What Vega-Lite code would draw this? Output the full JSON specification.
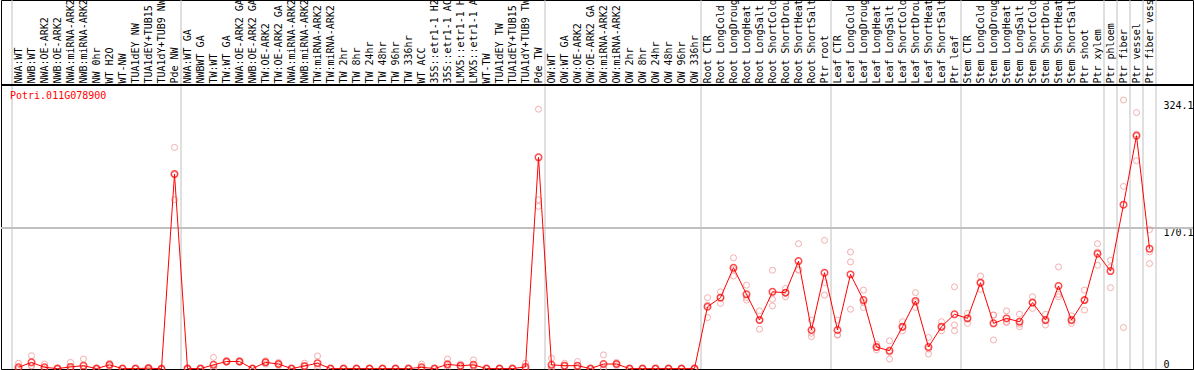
{
  "$schema": "https://vega.github.io/schema/vega-lite/v6.json",
  "width": 1192,
  "height": 369,
  "autosize": {"type": "none"},
  "padding": {"left": 1, "top": 0, "right": 1, "bottom": 1},
  "background": "white",
  "config": {"view": {"stroke": "black", "strokeWidth": 1}, "font": "DejaVu Sans Mono"},
  "title": {"text": "Potri.011G078900", "orient": "bottom", "anchor": "start", "frame": "group", "offset": -284, "dx": 9, "color": "red", "font": "DejaVu Sans Mono", "fontSize": 10, "fontWeight": "normal", "baseline": "top"},
  "data": {"values": [
    {"k": "01|NWA:WT", "g": "NW", "m": 2, "r": [0.5, 7, 0]},
    {"k": "02|NWB:WT", "g": "NW", "m": 8, "r": [3.6, 16, 4]},
    {"k": "03|NWA:OE-ARK2", "g": "NW", "m": 2, "r": [6, 0, 0]},
    {"k": "04|NWB:OE-ARK2", "g": "NW", "m": 0.5, "r": [0.5, 1, 0]},
    {"k": "05|NWA:miRNA-ARK2", "g": "NW", "m": 2.5, "r": [8, 0, 0]},
    {"k": "06|NWB:miRNA-ARK2", "g": "NW", "m": 4, "r": [12, 0, 0]},
    {"k": "07|NW 0hr", "g": "NW", "m": 0.5, "r": [0.5, 0, 1]},
    {"k": "08|WT H2O", "g": "NW", "m": 5, "r": [7, 5, 3]},
    {"k": "09|WT-NW", "g": "NW", "m": 0.5, "r": [0.5, 0.5, 0.5]},
    {"k": "10|TUA1dEY NW", "g": "NW", "m": 0.5, "r": [0.5, 0.5, 0.5]},
    {"k": "11|TUA1dEY+TUB15", "g": "NW", "m": 1, "r": [1, 2, 0]},
    {"k": "12|TUA1dY+TUB9 NW", "g": "NW", "m": 0.3, "r": [0.3, 0.3, 0.3]},
    {"k": "13|Pde NW", "g": "NW", "m": 235, "r": [267, 234, 204]},
    {"k": "14|NWA:WT GA", "g": "TW", "m": 0.5, "r": [0.5, 0.5, 0.5]},
    {"k": "15|NWBWT GA", "g": "TW", "m": 0.5, "r": [0.5, 0.5, 0.5]},
    {"k": "16|TW:WT", "g": "TW", "m": 5, "r": [14, 1, 0]},
    {"k": "17|TW:WT GA", "g": "TW", "m": 9, "r": [10, 9, 8]},
    {"k": "18|NWA:OE-ARK2 GA", "g": "TW", "m": 9, "r": [10, 9, 8]},
    {"k": "19|NWB:OE-ARK2 GA", "g": "TW", "m": 0.5, "r": [0.5, 0.5, 0.5]},
    {"k": "20|TW:OE-ARK2", "g": "TW", "m": 8, "r": [10, 8, 6]},
    {"k": "21|TW:OE-ARK2 GA", "g": "TW", "m": 6, "r": [8, 6, 4]},
    {"k": "22|NWA:miRNA-ARK2", "g": "TW", "m": 0.5, "r": [0.5, 0.5, 0.5]},
    {"k": "23|NWB:miRNA-ARK2", "g": "TW", "m": 3.6, "r": [7, 3, 1]},
    {"k": "24|TW:miRNA-ARK2", "g": "TW", "m": 7, "r": [15.7, 4, 1]},
    {"k": "25|TW:miRNA-ARK2 ", "g": "TW", "m": 0.5, "r": [0.5, 0.5, 0.5]},
    {"k": "26|TW 2hr", "g": "TW", "m": 0.5, "r": [0.5, 0.5, 0.5]},
    {"k": "27|TW 8hr", "g": "TW", "m": 0.5, "r": [0.5, 0.5, 0.5]},
    {"k": "28|TW 24hr", "g": "TW", "m": 0.5, "r": [0.5, 0.5, 0.5]},
    {"k": "29|TW 48hr", "g": "TW", "m": 0.5, "r": [0.5, 0.5, 0.5]},
    {"k": "30|TW 96hr", "g": "TW", "m": 0.5, "r": [0.5, 0.5, 0.5]},
    {"k": "31|TW 336hr", "g": "TW", "m": 0.5, "r": [0.5, 0.5, 0.5]},
    {"k": "32|WT ACC", "g": "TW", "m": 2, "r": [6, 0, 0]},
    {"k": "33|35S::etr1-1 H2", "g": "TW", "m": 0.5, "r": [0.5, 0.5, 0.5]},
    {"k": "34|35S::etr1-1 AC", "g": "TW", "m": 5.6, "r": [12, 4, 1]},
    {"k": "35|LMX5::etr1-1 H", "g": "TW", "m": 4, "r": [6, 4, 2]},
    {"k": "36|LMX5::etr1-1 A", "g": "TW", "m": 5, "r": [11, 3, 1]},
    {"k": "37|WT-TW", "g": "TW", "m": 0.5, "r": [0.5, 0.5, 0.5]},
    {"k": "38|TUA1dEY TW", "g": "TW", "m": 0.5, "r": [0.5, 0.5, 0.5]},
    {"k": "39|TUA1dEY+TUB15 ", "g": "TW", "m": 0.5, "r": [0.5, 0.5, 0.5]},
    {"k": "40|TUA1dY+TUB9 TW", "g": "TW", "m": 2.5, "r": [7, 0.5, 0]},
    {"k": "41|Pde TW", "g": "TW", "m": 255, "r": [313, 204, 196]},
    {"k": "42|OW:WT", "g": "OW", "m": 5, "r": [13, 2, 0]},
    {"k": "43|OW:WT GA", "g": "OW", "m": 4, "r": [7, 4, 1]},
    {"k": "44|OW:OE-ARK2", "g": "OW", "m": 4, "r": [9, 2, 1]},
    {"k": "45|OW:OE-ARK2 GA", "g": "OW", "m": 0.5, "r": [0.5, 0.5, 0.5]},
    {"k": "46|OW:miRNA-ARK2", "g": "OW", "m": 6, "r": [17, 1, 0]},
    {"k": "47|OW:miRNA-ARK2 ", "g": "OW", "m": 6, "r": [8, 6, 4]},
    {"k": "48|OW 2hr", "g": "OW", "m": 0.5, "r": [0.5, 0.5, 0.5]},
    {"k": "49|OW 8hr", "g": "OW", "m": 0.5, "r": [0.5, 0.5, 0.5]},
    {"k": "50|OW 24hr", "g": "OW", "m": 0.5, "r": [0.5, 0.5, 0.5]},
    {"k": "51|OW 48hr", "g": "OW", "m": 0.5, "r": [0.5, 0.5, 0.5]},
    {"k": "52|OW 96hr", "g": "OW", "m": 0.5, "r": [0.5, 0.5, 0.5]},
    {"k": "53|OW 336hr", "g": "OW", "m": 0.5, "r": [0.5, 0.5, 0.5]},
    {"k": "54|Root CTR", "g": "Root", "m": 75, "r": [86, 77, 62]},
    {"k": "55|Root LongCold", "g": "Root", "m": 86, "r": [93, 86, 79]},
    {"k": "56|Root LongDroug", "g": "Root", "m": 122, "r": [134, 120, 112]},
    {"k": "57|Root LongHeat", "g": "Root", "m": 90, "r": [101, 86, 83]},
    {"k": "58|Root LongSalt", "g": "Root", "m": 59, "r": [70, 59, 48]},
    {"k": "59|Root ShortCold", "g": "Root", "m": 93, "r": [119, 84, 76]},
    {"k": "60|Root ShortDrou", "g": "Root", "m": 92, "r": [97, 92, 87]},
    {"k": "61|Root ShortHeat", "g": "Root", "m": 130, "r": [151, 119, 120]},
    {"k": "62|Root ShortSalt", "g": "Root", "m": 47, "r": [59, 43, 39]},
    {"k": "63|Ptr root", "g": "Root", "m": 116, "r": [155, 104, 89]},
    {"k": "64|Leaf CTR", "g": "Leaf", "m": 47, "r": [59, 41, 41]},
    {"k": "65|Leaf LongCold", "g": "Leaf", "m": 114, "r": [141, 129, 72]},
    {"k": "66|Leaf LongDroug", "g": "Leaf", "m": 83, "r": [95, 80, 74]},
    {"k": "67|Leaf LongHeat", "g": "Leaf", "m": 26.5, "r": [30, 26, 23]},
    {"k": "68|Leaf LongSalt", "g": "Leaf", "m": 22, "r": [34, 20, 12]},
    {"k": "69|Leaf ShortCold", "g": "Leaf", "m": 51, "r": [57, 50, 46]},
    {"k": "70|Leaf ShortDrou", "g": "Leaf", "m": 82, "r": [92, 80, 74]},
    {"k": "71|Leaf ShortHeat", "g": "Leaf", "m": 26.5, "r": [38, 24, 18]},
    {"k": "72|Leaf ShortSalt", "g": "Leaf", "m": 51, "r": [57, 50, 46]},
    {"k": "73|Ptr leaf", "g": "Leaf", "m": 66, "r": [99, 53, 46]},
    {"k": "74|Stem CTR", "g": "Stem", "m": 61, "r": [67, 61, 55]},
    {"k": "75|Stem LongCold", "g": "Stem", "m": 104, "r": [112, 104, 96]},
    {"k": "76|Stem LongDroug", "g": "Stem", "m": 55, "r": [65, 65, 35]},
    {"k": "77|Stem LongHeat", "g": "Stem", "m": 61, "r": [70, 57, 56]},
    {"k": "78|Stem LongSalt", "g": "Stem", "m": 57, "r": [66, 54, 51]},
    {"k": "79|Stem ShortCold", "g": "Stem", "m": 80, "r": [87, 80, 73]},
    {"k": "80|Stem ShortDrou", "g": "Stem", "m": 59, "r": [66, 58, 53]},
    {"k": "81|Stem ShortHeat", "g": "Stem", "m": 100, "r": [123, 90, 87]},
    {"k": "82|Stem ShortSalt", "g": "Stem", "m": 59, "r": [64, 58, 55]},
    {"k": "83|Ptr shoot", "g": "Stem", "m": 83, "r": [95, 83, 71]},
    {"k": "84|Ptr xylem", "g": "Stem", "m": 139, "r": [151, 141, 125]},
    {"k": "85|Ptr phloem", "g": "phloem", "m": 118, "r": [131, 123, 98]},
    {"k": "86|Ptr fiber", "g": "fiber", "m": 198, "r": [324.1, 220, 50]},
    {"k": "87|Ptr vessel", "g": "vessel", "m": 281, "r": [309, 283, 251]},
    {"k": "88|Ptr fiber vess", "g": "fibervessel", "m": 145, "r": [168, 141, 127]}
  ]},
  "layer": [
    {
      "transform": [
        {"window": [{"op": "row_number", "as": "rn"}], "groupby": ["g"], "sort": [{"field": "k", "order": "ascending"}]},
        {"filter": "datum.rn == 1"}
      ],
      "mark": {"type": "rule", "color": "#c0c0c0", "strokeWidth": 1},
      "encoding": {"x": {"field": "k", "type": "ordinal", "bandPosition": 0, "scale": {"type": "band"}}}
    },
    {
      "transform": [
        {"window": [{"op": "row_number", "as": "rn"}], "sort": [{"field": "k", "order": "descending"}]},
        {"filter": "datum.rn == 1"}
      ],
      "mark": {"type": "rule", "color": "#c0c0c0", "strokeWidth": 1},
      "encoding": {"x": {"field": "k", "type": "ordinal", "bandPosition": 1, "scale": {"type": "band"}}}
    },
    {
      "mark": {"type": "rule", "color": "#c0c0c0", "strokeWidth": 1},
      "encoding": {"y": {"datum": 170.1, "type": "quantitative", "scale": {"domain": [0, 444.6], "nice": false, "zero": true}}}
    },
    {
      "mark": {"type": "rule", "color": "#000000", "strokeWidth": 1},
      "encoding": {"y": {"datum": 342.2, "type": "quantitative", "scale": {"domain": [0, 444.6], "nice": false, "zero": true}}}
    },
    {
      "transform": [{"flatten": ["r"], "as": ["rv"]}],
      "mark": {"type": "point", "filled": false, "color": "#f08c8c", "size": 36, "strokeWidth": 1},
      "encoding": {
        "x": {"field": "k", "type": "ordinal", "scale": {"type": "band"}},
        "y": {"field": "rv", "type": "quantitative", "scale": {"domain": [0, 444.6], "nice": false, "zero": true}}
      }
    },
    {
      "mark": {"type": "line", "color": "red", "strokeWidth": 1},
      "encoding": {
        "x": {"field": "k", "type": "ordinal", "scale": {"type": "band"}},
        "y": {"field": "m", "type": "quantitative", "scale": {"domain": [0, 444.6], "nice": false, "zero": true}}
      }
    },
    {
      "mark": {"type": "point", "filled": false, "color": "red", "size": 42, "strokeWidth": 1.5},
      "encoding": {
        "x": {
          "field": "k", "type": "ordinal",
          "scale": {"type": "band", "paddingInner": 0, "paddingOuter": 0, "range": [11, 1155], "round": false},
          "axis": {
            "orient": "top", "offset": -85, "title": null,
            "labelAngle": -90, "labelAlign": "left", "labelBaseline": "middle", "labelPadding": 2,
            "labelFont": "DejaVu Sans Mono", "labelFontSize": 10, "labelColor": "black",
            "labelOverlap": false, "labelLimit": 0, "labelExpr": "substring(datum.value, 3)",
            "ticks": false, "tickSize": 0, "domain": false, "grid": false
          }
        },
        "y": {
          "field": "m", "type": "quantitative",
          "scale": {"domain": [0, 444.6], "nice": false, "zero": true},
          "axis": {
            "orient": "right", "offset": -30, "title": null, "values": [0, 170.1, 324.1],
            "domain": false, "ticks": false, "tickSize": 0, "labelPadding": 0,
            "labelFont": "DejaVu Sans Mono", "labelFontSize": 10, "labelColor": "black", "labelAlign": "left",
            "labelExpr": "datum.value == 0 ? '0' : format(datum.value, '.1f')",
            "labelBaseline": {"condition": {"test": "datum.value == 0", "value": "bottom"}, "value": "top"},
            "grid": false
          }
        }
      }
    }
  ]
}
